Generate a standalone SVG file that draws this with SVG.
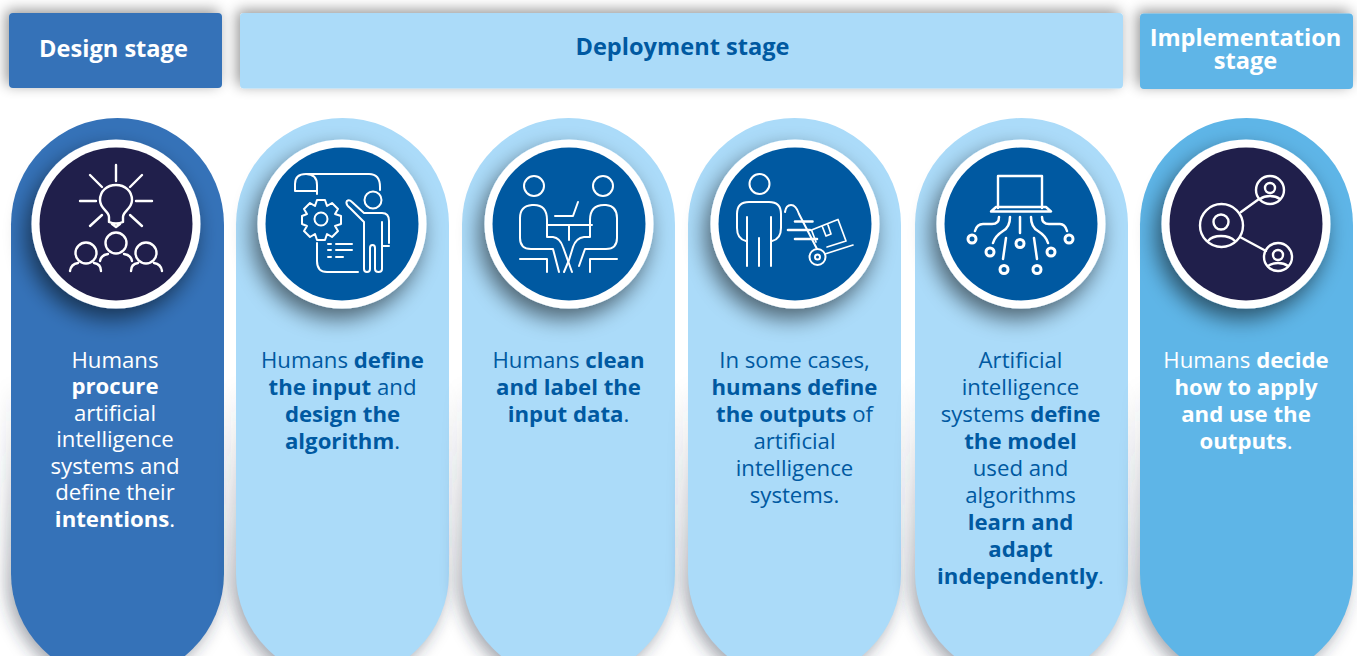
<svg xmlns="http://www.w3.org/2000/svg" width="1357" height="656" viewBox="0 0 1357 656">
<defs>
<filter id="hs" x="-20%" y="-60%" width="140%" height="220%"><feGaussianBlur in="SourceAlpha" stdDeviation="7"/><feOffset dx="-3" dy="-3"/><feComponentTransfer><feFuncA type="linear" slope="0.42"/></feComponentTransfer><feMerge><feMergeNode/><feMergeNode in="SourceGraphic"/></feMerge></filter>
<filter id="ps" x="-20%" y="-10%" width="140%" height="120%"><feGaussianBlur stdDeviation="8"/></filter>
<filter id="cs" x="-40%" y="-40%" width="180%" height="180%"><feGaussianBlur in="SourceAlpha" stdDeviation="11"/><feOffset dx="-5" dy="10"/><feComponentTransfer><feFuncA type="linear" slope="0.55"/></feComponentTransfer><feMerge><feMergeNode/><feMergeNode in="SourceGraphic"/></feMerge></filter>
<linearGradient id="sg" gradientUnits="userSpaceOnUse" x1="0" y1="380" x2="0" y2="600"><stop offset="0" stop-color="#30384a" stop-opacity="0"/><stop offset="1" stop-color="#30384a" stop-opacity="0.42"/></linearGradient>
</defs>
<style>
text{font-family:"Open Sans","Noto Sans","Liberation Sans",sans-serif;text-anchor:middle}
.b{font-weight:700}
.h{font-size:23.6px;font-weight:700}
.t{font-size:22.2px;font-weight:400}
.w{fill:#fff}
.d{fill:#0059a1}
.i{fill:none;stroke:#fff;stroke-width:2;stroke-linecap:round;stroke-linejoin:round}
.i2{stroke-width:2.4}
.i3{stroke-width:3}
.ring{fill:#fff}
.sh{fill:url(#sg);filter:url(#ps)}
</style>
<rect width="1357" height="656" fill="#fff"/>
<g id="header-design"><rect x="9" y="13" width="213" height="75" rx="4" fill="#3572b8" filter="url(#hs)"/><text class="h w" x="113.500" y="57">Design stage</text></g>
<g id="header-deployment"><rect x="240" y="13" width="883" height="75.500" rx="4" fill="#abdbf9" filter="url(#hs)"/><text class="h d" x="682.500" y="55">Deployment stage</text></g>
<g id="header-implementation"><rect x="1140" y="13.500" width="213" height="75.500" rx="4" fill="#5eb5e7" filter="url(#hs)"/><text class="h w" x="1245.500" y="46">Implementation</text><text class="h w" x="1245.500" y="69">stage</text></g>

<g id="pill-design"><rect class="sh" x="6" y="124" width="214" height="562" rx="107"/><rect x="11" y="118" width="213" height="562" rx="106.500" fill="#3572b8"/>
<circle cx="116" cy="224" r="84.500" class="ring" filter="url(#cs)"/><circle cx="116" cy="224" r="76.500" fill="#201f4b"/>
<g class="i i2">
<path d="M116 165V181M90 175L102 187M142 175L130 187M80 201H96M136 201H152M90 226L102 215M142 226L130 215"/>
<path d="M109 222V217C109 211 100 209 100 200C100 191 107 185 116 185C125 185 132 191 132 200C132 209 123 211 123 217V222Q116 225 109 222ZM112 224L116 227L120 224"/>
<circle cx="116" cy="243" r="10.500"/><path d="M100 261Q101 255 108 254M124 254Q131 255 132 261"/>
<circle cx="86" cy="253" r="10.500"/><path d="M70 271Q71 264 78 263M94 263Q101 264 101 271"/>
<circle cx="146" cy="253" r="10.500"/><path d="M131 271Q131 264 138 263M154 263Q161 264 162 271"/>
</g>
<text class="t w"><tspan x="115" y="368">Humans</tspan><tspan class="b" x="115" y="394">procure</tspan><tspan x="115" y="421">artificial</tspan><tspan x="115" y="447">intelligence</tspan><tspan x="115" y="474">systems and</tspan><tspan x="115" y="500">define their</tspan><tspan x="115" y="527"><tspan class="b">intentions</tspan>.</tspan></text></g>

<g id="pill-input"><rect class="sh" x="231" y="124" width="214" height="562" rx="107"/><rect x="236" y="118" width="213" height="562" rx="106.500" fill="#abdbf9"/>
<circle cx="342" cy="224" r="84.500" class="ring" filter="url(#cs)"/><circle cx="342" cy="224" r="76.500" fill="#0059a1"/>
<g class="i">
<path d="M317 191H295V184Q295 174 306 174Q317 174 317 185V194M306 174H369Q380 174 380 187V190"/>
<circle cx="373" cy="200" r="8.500"/>
<path d="M346.500 202Q346 205 350 208L364 222V269Q364 272 367 272Q370 272 370 269V248Q370 245 372.500 245Q375 245 375 248V269Q375 272 378.500 272Q382 272 382 269V222M347 201Q349 199 352 202L364 213H382Q389 213 389 221V243M382 224V246H389"/>
<circle cx="321" cy="219" r="6.500"/>
<path d="M317 200H325L327 206L332 203L338 209L335 214L341 216V224L335 226L338 231L332 237L327 234L325 240H317L315 234L310 237L304 231L307 226L302 224V216L307 214L304 209L310 203L315 206Z"/>
<path d="M317 243V261Q317 272 327 272H358M336 244H352M336 250H352M336 257H343M328 244H331M328 250H331M328 257H331"/>
</g>
<text class="t d"><tspan x="342.500" y="368">Humans <tspan class="b">define</tspan></tspan><tspan x="342.500" y="395"><tspan class="b">the input</tspan> and</tspan><tspan x="342.500" y="422" class="b">design the</tspan><tspan x="342.500" y="449"><tspan class="b">algorithm</tspan>.</tspan></text></g>

<g id="pill-data"><rect class="sh" x="457" y="124" width="214" height="562" rx="107"/><rect x="462" y="118" width="213" height="562" rx="106.500" fill="#abdbf9"/>
<circle cx="569" cy="224" r="84.500" class="ring" filter="url(#cs)"/><circle cx="569" cy="224" r="76.500" fill="#0059a1"/>
<g class="i">
<circle cx="534" cy="186" r="10"/><circle cx="603" cy="186" r="10"/>
<path d="M555 216H573L578 202M547 225H592M569 225V240"/>
<path d="M547 237V220Q547 205 534 205H532Q520 206 520 218V238Q520 249 531 249H553L559 272M547 237H553Q560 238 563 247L572 272"/>
<path d="M590 237V220Q590 205 604 205H606Q617 206 617 218V238Q617 249 606 249H585L579 266M590 237H584Q576 238 573 247L569 260L564 272"/>
<path d="M520 259H547V272M617 259H590V272"/>
</g>
<text class="t d"><tspan x="568.500" y="368">Humans <tspan class="b">clean</tspan></tspan><tspan x="568.500" y="395" class="b">and label the</tspan><tspan x="568.500" y="422"><tspan class="b">input data</tspan>.</tspan></text></g>

<g id="pill-outputs"><rect class="sh" x="683" y="124" width="214" height="562" rx="107"/><rect x="688" y="118" width="213" height="562" rx="106.500" fill="#abdbf9"/>
<circle cx="795" cy="224" r="84.500" class="ring" filter="url(#cs)"/><circle cx="795" cy="224" r="76.500" fill="#0059a1"/>
<g class="i">
<circle cx="759.500" cy="184" r="10"/>
<path d="M747 266V217M759 266V238M771 266V217"/>
<path d="M746 241Q737 239 737 228V214Q737 202 749 202H769Q781 202 781 214V228Q781 239 772 241"/>
<path d="M785 212Q786 205 791 205Q796 205 799 214L817 249"/>
<path d="M795 221.500H812.500M788 230H810M795 239H817" stroke-width="2.600"/>
<circle cx="817.500" cy="257" r="8"/><circle cx="817.500" cy="257" r="2.500"/>
<path d="M825 254L853 245M816 242L811.500 230L838 219.500L846 241L827 247M822.500 227L826 236L831 234L828 225" stroke-width="1.700"/>
</g>
<text class="t d"><tspan x="794.500" y="368">In some cases,</tspan><tspan x="794.500" y="395" class="b">humans define</tspan><tspan x="794.500" y="422"><tspan class="b">the outputs</tspan> of</tspan><tspan x="794.500" y="449">artificial</tspan><tspan x="794.500" y="476">intelligence</tspan><tspan x="794.500" y="503">systems.</tspan></text></g>

<g id="pill-model"><rect class="sh" x="910" y="124" width="214" height="562" rx="107"/><rect x="915" y="118" width="213" height="562" rx="106.500" fill="#abdbf9"/>
<circle cx="1021" cy="224" r="84.500" class="ring" filter="url(#cs)"/><circle cx="1021" cy="224" r="76.500" fill="#0059a1"/>
<g class="i i3">
<path d="M998 208V176H1042V208M991 211.500L996 207H1046L1051 211.500Z" stroke-width="2.400"/>
<path d="M999 217Q999 224 992 224H983Q977 224 975 231M1010 217Q1010 227 1003 231Q995 236 993 243M1020 217V233M1031 217Q1031 227 1038 231Q1046 236 1048 243M1042 217Q1042 224 1049 224H1060Q1065 224 1067 231M1006 238L1003 259M1034 238L1037 259" stroke-width="2.500"/>
<circle cx="972" cy="239" r="4"/><circle cx="990" cy="252" r="4"/><circle cx="1004" cy="269.500" r="4"/><circle cx="1020" cy="243.500" r="4"/><circle cx="1037" cy="269.500" r="4"/><circle cx="1051" cy="252" r="4"/><circle cx="1069" cy="239" r="4"/>
</g>
<text class="t d"><tspan x="1020.500" y="368">Artificial</tspan><tspan x="1020.500" y="395">intelligence</tspan><tspan x="1020.500" y="422">systems <tspan class="b">define</tspan></tspan><tspan x="1020.500" y="449" class="b">the model</tspan><tspan x="1020.500" y="476">used and</tspan><tspan x="1020.500" y="503">algorithms</tspan><tspan x="1020.500" y="530" class="b">learn and</tspan><tspan x="1020.500" y="557" class="b">adapt</tspan><tspan x="1020.500" y="584"><tspan class="b">independently</tspan>.</tspan></text></g>

<g id="pill-implementation"><rect class="sh" x="1135" y="124" width="214" height="562" rx="107"/><rect x="1140" y="118" width="213" height="562" rx="106.500" fill="#5eb5e7"/>
<circle cx="1246" cy="224" r="84.500" class="ring" filter="url(#cs)"/><circle cx="1246" cy="224" r="76.500" fill="#201f4b"/>
<g class="i i2" stroke-width="2.500">
<circle cx="1221.500" cy="225.500" r="21.500"/><circle cx="1270" cy="190" r="14"/><circle cx="1278" cy="257" r="14"/>
<path d="M1241 212L1259 199M1240 237L1266 251"/>
<circle cx="1221" cy="222" r="7.500"/><path d="M1208 241Q1212 236 1221 236Q1230 236 1235 241"/>
<circle cx="1270" cy="188" r="5"/><path d="M1260 199Q1264 196 1270 196Q1276 196 1280 199"/>
<circle cx="1278" cy="255" r="5"/><path d="M1268 266Q1272 263 1278 263Q1284 263 1288 266"/>
</g>
<text class="t w"><tspan x="1246" y="368">Humans <tspan class="b">decide</tspan></tspan><tspan x="1246" y="395" class="b">how to apply</tspan><tspan x="1246" y="422" class="b">and use the</tspan><tspan x="1246" y="449"><tspan class="b">outputs</tspan>.</tspan></text></g>
</svg>
